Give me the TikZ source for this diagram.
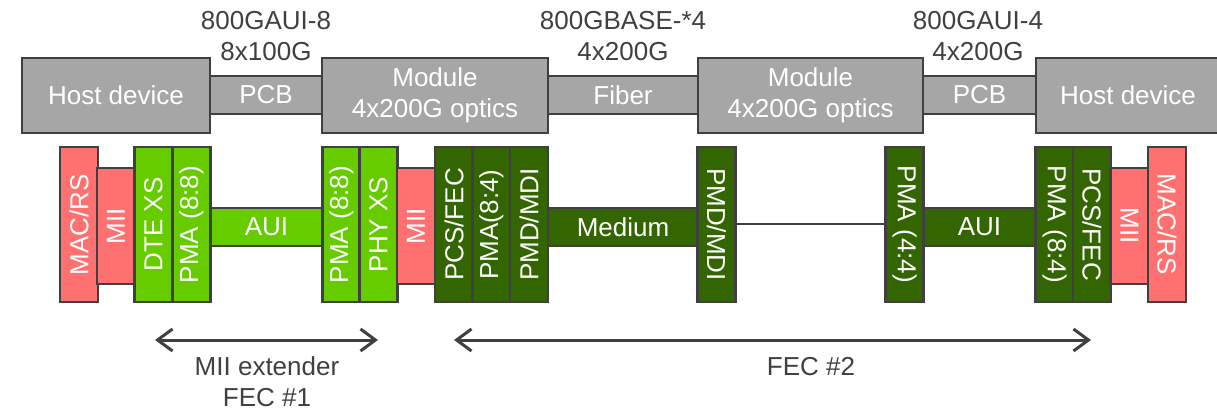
\documentclass[tikz,border=0pt]{standalone}
\usepackage{fontspec}
\setmainfont{Liberation Sans}
\usetikzlibrary{arrows.meta}

\definecolor{boxgray}{HTML}{A6A6A6}
\definecolor{edgegray}{HTML}{404040}
\definecolor{macred}{HTML}{FF7171}
\definecolor{xsgreen}{HTML}{66CC00}
\definecolor{phygreen}{HTML}{336600}

\tikzset{
  layer/.style={draw=edgegray, line width=2.5pt, text=white, inner sep=0pt,
    font=\fontsize{26}{31}\selectfont},
  hostbox/.style={layer, fill=boxgray, minimum height=75pt, align=center},
  linkbox/.style={layer, fill=boxgray, minimum height=38pt},
  upbox/.style={layer, rotate=90, minimum width=155pt, minimum height=38pt},
  downbox/.style={layer, rotate=-90, minimum width=155pt, minimum height=38pt},
  barbox/.style={layer, minimum height=38pt},
  caption/.style={text=edgegray, align=center, font=\fontsize{26}{31}\selectfont},
  span/.style={draw=edgegray, line width=3pt, {Straight Barb[length=15pt,width=22pt]}-{Straight Barb[length=15pt,width=22pt]}}
}

\begin{document}
\begin{tikzpicture}[x=1pt, y=-1pt]
    \useasboundingbox (0,0) rectangle (1217,411);

    % Draw links between the devices
    \node[linkbox, minimum width=112pt] (pcbL) at (266, 95) {PCB};
    \node[linkbox, minimum width=150pt] (fiber) at (623, 95) {Fiber};
    \node[linkbox, minimum width=113pt] (pcbR) at (979.5, 95) {PCB};
    % Draw devices
    \node[hostbox, minimum width=188pt] (hostL) at (116, 95.5) {Host device};
    \node[hostbox, minimum width=226pt] (modL) at (435, 95.5) {Module\\4x200G optics};
    \node[hostbox, minimum width=225pt] (modR) at (810.5, 95.5) {Module\\4x200G optics};
    \node[hostbox, minimum width=184pt] (hostR) at (1128, 95.5) {Host device};

    % Interface names above the links
    \node[caption] (ifL) at (266, 36) {800GAUI-8\\8x100G};
    \node[caption] (ifM) at (623, 36) {800GBASE-*4\\4x200G};
    \node[caption] (ifR) at (978, 36) {800GAUI-4\\4x200G};

    % Draw the bars between sublayers
    \node[barbox, fill=xsgreen, minimum width=113pt] (auiL) at (266.5, 227) {AUI};
    \node[barbox, fill=phygreen, minimum width=150pt] (medium) at (623, 227) {Medium};
    \node[barbox, fill=phygreen, minimum width=113pt] (auiR) at (979.5, 227) {AUI};

    % Draw sublayers of the left host and module
    \node[upbox, fill=macred] (macL) at (79, 224.5) {MAC/RS};
    \node[upbox, fill=macred, minimum width=116pt] (miiL) at (116, 226) {MII};
    \node[upbox, fill=xsgreen] (dtexs) at (153.5, 224.5) {DTE XS};
    \node[upbox, fill=xsgreen] (pmaA) at (191.5, 224.5) {PMA (8:8)};
    \node[upbox, fill=xsgreen] (pmaB) at (341.5, 224.5) {PMA (8:8)};
    \node[upbox, fill=xsgreen] (phyxs) at (378.5, 224.5) {PHY XS};
    \node[upbox, fill=macred, minimum width=116pt] (miiM) at (416, 226) {MII};
    \node[upbox, fill=phygreen] (pcsL) at (454, 224.5) {PCS/FEC};
    \node[upbox, fill=phygreen] (pmaC) at (491.5, 224.5) {PMA(8:4)};
    \node[upbox, fill=phygreen] (pmdL) at (529, 224.5) {PMD/MDI};

    % Draw sublayers of the right module and host
    \node[downbox, fill=phygreen] (pmdR) at (716.5, 224.5) {PMD/MDI};
    \node[downbox, fill=phygreen] (pmaD) at (904.5, 224.5) {PMA (4:4)};
    \node[downbox, fill=phygreen] (pmaE) at (1054.5, 224.5) {PMA (8:4)};
    \node[downbox, fill=phygreen] (pcsR) at (1092, 224.5) {PCS/FEC};
    \node[downbox, fill=macred, minimum width=116pt] (miiR) at (1129.5, 226) {MII};
    \node[downbox, fill=macred] (macR) at (1167, 224.5) {MAC/RS};

    % Thin line inside the module
    \draw[edgegray, line width=2pt] (pmdR) -- (pmaD);

    % Spans of the two FEC
    \coordinate (fecAa) at (155, 340);
    \coordinate (fecAb) at (378, 340);
    \coordinate (fecBa) at (454, 340);
    \coordinate (fecBb) at (1091, 340);
    \draw[span] (fecAa) -- (fecAb);
    \draw[span] (fecBa) -- (fecBb);
    \node[caption] (fecA) at (267, 382) {MII extender\\FEC \#1};
    \node[caption] (fecB) at (811, 367) {FEC \#2};

\end{tikzpicture}
\end{document}
